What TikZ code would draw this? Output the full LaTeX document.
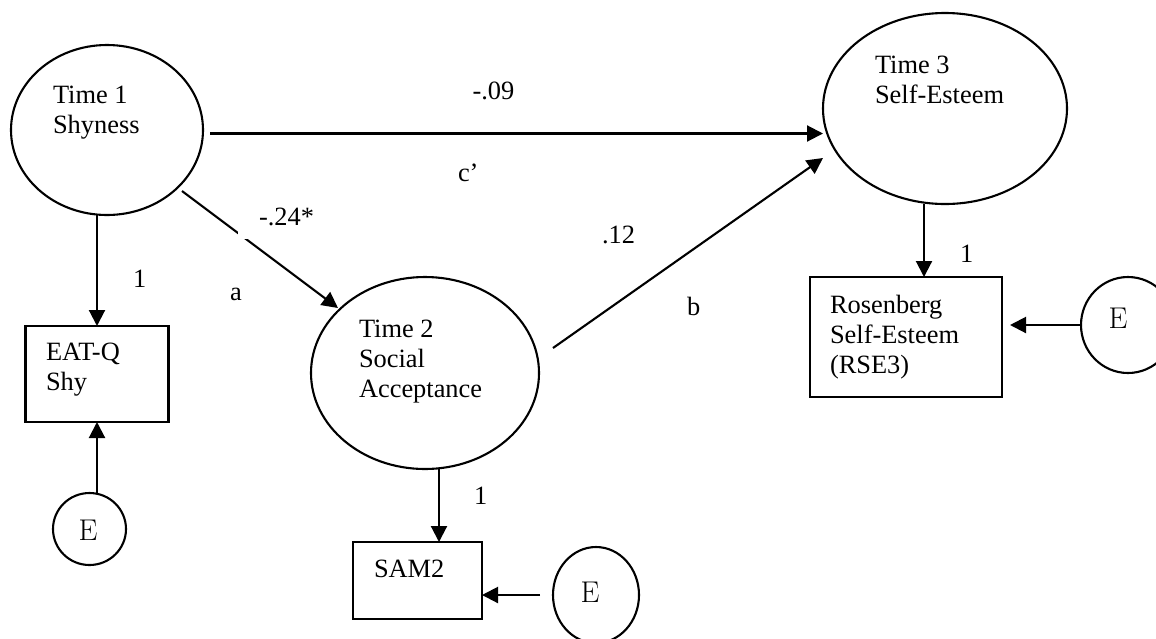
\documentclass[tikz,border=0pt]{standalone}
\usepackage{fontspec}
\newfontfamily\tnr{Liberation Serif}
\usetikzlibrary{shapes.geometric,arrows.meta}
\begin{document}
\begin{tikzpicture}[x=1pt,y=-1pt,
  every node/.style={inner sep=0pt, outer sep=0pt},
  latent/.style={draw, ellipse, line width=2.1pt},
  obsbox/.style={draw, rectangle, line width=2.1pt},
  txt/.style={font=\tnr\fontsize{26.4}{30}\selectfont, align=left, anchor=north west},
  lbl/.style={font=\tnr\fontsize{26.4}{30}\selectfont, anchor=base west},
  errtxt/.style={font=\fontsize{30}{36}\selectfont},
  arr/.style={line width=2.1pt, -{Triangle[length=16pt,width=16pt]}}]

% page frame
\useasboundingbox (0,0) rectangle (1156,638);
\fill[white] (0,0) rectangle (1156,638);
\clip (0,0) rectangle (1156,638);

% latent variables
\node[latent, minimum width=192pt, minimum height=170pt] (e1) at (107,130) {};
\node[latent, minimum width=228pt, minimum height=192pt] (e2) at (425,373) {};
\node[latent, minimum width=244pt, minimum height=191pt] (e3) at (945,108.5) {};

\node[txt] (t1) at (53,83) {\rule{0pt}{20pt}Time 1\\Shyness};
\node[txt] (t2) at (359,317) {\rule{0pt}{20pt}Time 2\\Social\\Acceptance};
\node[txt] (t3) at (875,53) {\rule{0pt}{20pt}Time 3\\Self-Esteem};

% indicators
\node[obsbox, minimum width=143pt, minimum height=96pt] (eat) at (97,374) {};
\node[obsbox, minimum width=129pt, minimum height=77pt] (sam) at (417.5,580.5) {};
\node[obsbox, minimum width=192pt, minimum height=120pt] (rse) at (906,337) {};

\node[txt] (teat) at (46,340) {\rule{0pt}{20pt}EAT-Q\\Shy};
\node[lbl] (tsam) at (374,577) {SAM2};
\node[txt] (trse) at (830,293) {\rule{0pt}{20pt}Rosenberg\\Self-Esteem\\(RSE3)};

% error terms
\node[latent, minimum width=73pt, minimum height=72pt] (E1) at (89.5,529) {};
\node[latent, minimum width=86pt, minimum height=96pt] (E2) at (596,595) {};
\node[latent, minimum width=94pt, minimum height=96pt] (E3) at (1128,325) {};
\node[errtxt] (E1t) at (88,530) {E};
\node[errtxt] (E2t) at (590,592) {E};
\node[errtxt] (E3t) at (1118,318) {E};

% structural paths
\draw[arr] ([xshift=7pt,yshift=-3.5pt]e1.east) -- ([yshift=-25pt]e3.west);
\draw[arr] ([xshift=75pt,yshift=-61pt]e1.center) -- ([xshift=-87pt,yshift=65pt]e2.center);
\draw[arr] ([xshift=128pt,yshift=25pt]e2.center) -- ([xshift=-122pt,yshift=-49.5pt]e3.center);

% loadings
\draw[arr] ([xshift=-10pt]e1.south) -- (eat.north);
\draw[arr] ([xshift=14pt]e2.south) -- ([xshift=21.5pt]sam.north);
\draw[arr] ([xshift=-21pt]e3.south) -- ([xshift=18pt]rse.north);

% residuals
\draw[arr] ([xshift=7.5pt]E1.north) -- (eat.south);
\draw[arr] ([xshift=-13pt]E2.west) -- ([yshift=-14.5pt]sam.east);
\draw[arr] (E3.west) -- ([xshift=8pt,yshift=12pt]rse.east);

% path labels
\node[lbl] (l09) at (472.5,99) {-.09};
\node[lbl] (lc) at (458,181) {c’};
\node[lbl, fill=white, inner xsep=21pt, inner ysep=14pt] (l24) at (238,225) {-.24*};
\node[lbl] (la) at (230,300) {a};
\node[lbl] (l12) at (602,243) {.12};
\node[lbl] (lb) at (687,315) {b};
\node[lbl] (l1a) at (133,287) {1};
\node[lbl] (l1b) at (474,504) {1};
\node[lbl] (l1c) at (960,262) {1};
\end{tikzpicture}
\end{document}
